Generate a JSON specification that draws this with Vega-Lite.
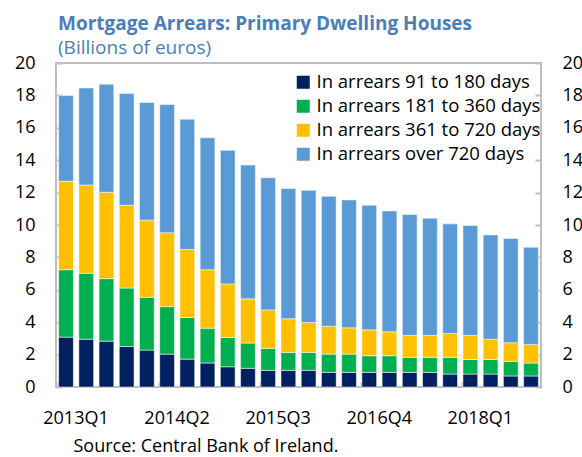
{
  "$schema": "https://vega.github.io/schema/vega-lite/v6.json",
  "width": 485,
  "height": 324,
  "autosize": "none",
  "padding": {"left": 56, "top": 63, "right": 41, "bottom": 70},
  "background": "white",
  "config": {
    "font": "Open Sans",
    "view": {"stroke": "#bfbfbf", "strokeWidth": 2},
    "axis": {"domain": false, "grid": false, "labelColor": "#000000", "tickColor": "#bfbfbf", "tickWidth": 2}
  },
  "title": {
    "text": "Mortgage Arrears: Primary Dwelling Houses",
    "subtitle": "(Billions of euros)",
    "anchor": "start",
    "frame": "group",
    "fontSize": 19,
    "fontWeight": "bold",
    "color": "#4a7ebb",
    "subtitleColor": "#4a7ebb",
    "subtitleFontSize": 19,
    "subtitlePadding": 5,
    "offset": -4,
    "dx": 2
  },
  "data": {
    "values": [
      {"q": "2013Q1", "In arrears 91 to 180 days": 3.08, "In arrears 181 to 360 days": 4.16, "In arrears 361 to 720 days": 5.46, "In arrears over 720 days": 5.29},
      {"q": "2013Q2", "In arrears 91 to 180 days": 2.95, "In arrears 181 to 360 days": 4.07, "In arrears 361 to 720 days": 5.45, "In arrears over 720 days": 5.99},
      {"q": "2013Q3", "In arrears 91 to 180 days": 2.83, "In arrears 181 to 360 days": 3.86, "In arrears 361 to 720 days": 5.33, "In arrears over 720 days": 6.67},
      {"q": "2013Q4", "In arrears 91 to 180 days": 2.50, "In arrears 181 to 360 days": 3.61, "In arrears 361 to 720 days": 5.11, "In arrears over 720 days": 6.89},
      {"q": "2014Q1", "In arrears 91 to 180 days": 2.28, "In arrears 181 to 360 days": 3.26, "In arrears 361 to 720 days": 4.76, "In arrears over 720 days": 7.26},
      {"q": "2014Q2", "In arrears 91 to 180 days": 2.03, "In arrears 181 to 360 days": 2.93, "In arrears 361 to 720 days": 4.56, "In arrears over 720 days": 7.92},
      {"q": "2014Q3", "In arrears 91 to 180 days": 1.72, "In arrears 181 to 360 days": 2.57, "In arrears 361 to 720 days": 4.20, "In arrears over 720 days": 8.04},
      {"q": "2014Q4", "In arrears 91 to 180 days": 1.48, "In arrears 181 to 360 days": 2.15, "In arrears 361 to 720 days": 3.61, "In arrears over 720 days": 8.14},
      {"q": "2015Q1", "In arrears 91 to 180 days": 1.25, "In arrears 181 to 360 days": 1.81, "In arrears 361 to 720 days": 3.30, "In arrears over 720 days": 8.25},
      {"q": "2015Q2", "In arrears 91 to 180 days": 1.15, "In arrears 181 to 360 days": 1.56, "In arrears 361 to 720 days": 2.73, "In arrears over 720 days": 8.26},
      {"q": "2015Q3", "In arrears 91 to 180 days": 1.03, "In arrears 181 to 360 days": 1.35, "In arrears 361 to 720 days": 2.38, "In arrears over 720 days": 8.16},
      {"q": "2015Q4", "In arrears 91 to 180 days": 1.03, "In arrears 181 to 360 days": 1.10, "In arrears 361 to 720 days": 2.08, "In arrears over 720 days": 8.04},
      {"q": "2016Q1", "In arrears 91 to 180 days": 1.03, "In arrears 181 to 360 days": 1.10, "In arrears 361 to 720 days": 1.85, "In arrears over 720 days": 8.16},
      {"q": "2016Q2", "In arrears 91 to 180 days": 0.90, "In arrears 181 to 360 days": 1.13, "In arrears 361 to 720 days": 1.72, "In arrears over 720 days": 8.02},
      {"q": "2016Q3", "In arrears 91 to 180 days": 0.90, "In arrears 181 to 360 days": 1.13, "In arrears 361 to 720 days": 1.62, "In arrears over 720 days": 7.90},
      {"q": "2016Q4", "In arrears 91 to 180 days": 0.90, "In arrears 181 to 360 days": 1.03, "In arrears 361 to 720 days": 1.60, "In arrears over 720 days": 7.69},
      {"q": "2017Q1", "In arrears 91 to 180 days": 0.90, "In arrears 181 to 360 days": 1.03, "In arrears 361 to 720 days": 1.48, "In arrears over 720 days": 7.46},
      {"q": "2017Q2", "In arrears 91 to 180 days": 0.90, "In arrears 181 to 360 days": 0.93, "In arrears 361 to 720 days": 1.35, "In arrears over 720 days": 7.47},
      {"q": "2017Q3", "In arrears 91 to 180 days": 0.90, "In arrears 181 to 360 days": 0.93, "In arrears 361 to 720 days": 1.35, "In arrears over 720 days": 7.24},
      {"q": "2017Q4", "In arrears 91 to 180 days": 0.80, "In arrears 181 to 360 days": 1.03, "In arrears 361 to 720 days": 1.47, "In arrears over 720 days": 6.77},
      {"q": "2018Q1", "In arrears 91 to 180 days": 0.80, "In arrears 181 to 360 days": 0.90, "In arrears 361 to 720 days": 1.48, "In arrears over 720 days": 6.79},
      {"q": "2018Q2", "In arrears 91 to 180 days": 0.80, "In arrears 181 to 360 days": 0.90, "In arrears 361 to 720 days": 1.25, "In arrears over 720 days": 6.44},
      {"q": "2018Q3", "In arrears 91 to 180 days": 0.68, "In arrears 181 to 360 days": 0.90, "In arrears 361 to 720 days": 1.15, "In arrears over 720 days": 6.44},
      {"q": "2018Q4", "In arrears 91 to 180 days": 0.68, "In arrears 181 to 360 days": 0.80, "In arrears 361 to 720 days": 1.15, "In arrears over 720 days": 5.99}
    ]
  },
  "transform": [
    {"fold": ["In arrears 91 to 180 days", "In arrears 181 to 360 days", "In arrears 361 to 720 days", "In arrears over 720 days"], "as": ["series", "value"]},
    {"window": [{"op": "row_number", "as": "rank"}], "groupby": ["q"]}
  ],
  "encoding": {
    "x": {
      "field": "q",
      "type": "ordinal",
      "scale": {"paddingInner": 0.27, "paddingOuter": 0.13},
      "axis": {
        "values": ["2013Q1", "2014Q2", "2015Q3", "2016Q4", "2018Q1"],
        "bandPosition": 0,
        "labelOffset": 10,
        "tickSize": -5,
        "labelPadding": 27,
        "labelAngle": 0,
        "labelFontSize": 18,
        "title": "Source: Central Bank of Ireland.",
        "titleFontSize": 18,
        "titleFontWeight": "normal",
        "titleColor": "#000000",
        "titleAnchor": "start",
        "titleAlign": "left",
        "titleBaseline": "alphabetic",
        "titleX": 17,
        "titleY": 64
      }
    }
  },
  "layer": [
    {
      "mark": {"type": "bar", "stroke": "#ffffff", "strokeWidth": 1, "strokeOpacity": 0.5},
      "encoding": {
        "y": {
          "field": "value",
          "type": "quantitative",
          "stack": "zero",
          "scale": {"domain": [0, 20], "nice": false},
          "axis": {"orient": "left", "values": [0, 2, 4, 6, 8, 10, 12, 14, 16, 18, 20], "tickSize": -6, "labelPadding": 27, "labelFontSize": 18, "title": null}
        },
        "order": {"field": "rank", "type": "quantitative", "sort": "ascending"},
        "color": {
          "field": "series",
          "type": "nominal",
          "sort": ["In arrears 91 to 180 days", "In arrears 181 to 360 days", "In arrears 361 to 720 days", "In arrears over 720 days"],
          "scale": {
            "domain": ["In arrears 91 to 180 days", "In arrears 181 to 360 days", "In arrears 361 to 720 days", "In arrears over 720 days"],
            "range": ["#002060", "#00b050", "#ffc000", "#5b9bd5"]
          },
          "legend": {
            "orient": "none",
            "legendX": 238,
            "legendY": 10,
            "title": null,
            "padding": 0,
            "symbolType": "square",
            "symbolSize": 169,
            "symbolStrokeWidth": 0,
            "labelFontSize": 18.5,
            "labelColor": "#000000",
            "labelOffset": 4,
            "labelLimit": 0,
            "rowPadding": 5
          }
        }
      }
    },
    {
      "mark": {"type": "bar", "opacity": 0},
      "encoding": {
        "y": {
          "field": "value",
          "type": "quantitative",
          "stack": null,
          "scale": {"domain": [0, 20], "nice": false},
          "axis": {"orient": "right", "values": [0, 2, 4, 6, 8, 10, 12, 14, 16, 18, 20], "tickSize": -6, "labelPadding": 27, "labelFontSize": 18, "title": null}
        }
      }
    }
  ],
  "resolve": {"scale": {"y": "independent"}}
}
